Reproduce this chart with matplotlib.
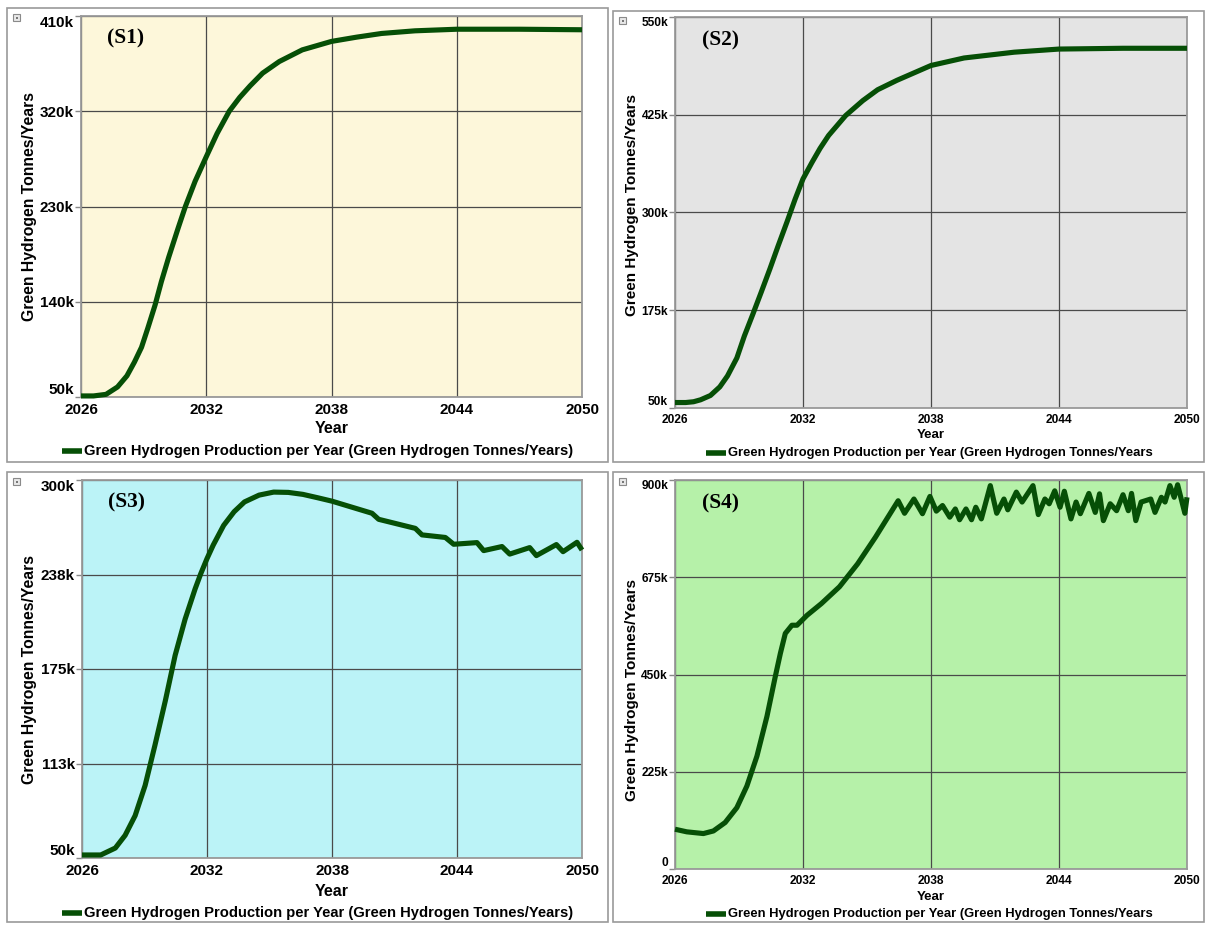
import matplotlib
matplotlib.use("Agg")
import matplotlib.pyplot as plt
import matplotlib.patches as patches
from matplotlib.lines import Line2D

# =============================================================================
# DATA (values in thousand tonnes / year)
# =============================================================================

year_ticks = [2026, 2032, 2038, 2044, 2050]

s1_years = [2026, 2026.6, 2027.2, 2027.75, 2028.2, 2028.56, 2028.9, 2029.2, 2029.55,
            2029.85, 2030.2, 2030.66, 2031.0, 2031.47, 2032.0, 2032.52, 2033.1, 2033.6,
            2034.1, 2034.7, 2035.5, 2036.6, 2038.0, 2039.2, 2040.4, 2042.0, 2044.0,
            2047.0, 2050.0]
s1_values = [51, 51, 52.5, 59.5, 70, 83, 97, 115, 137, 159, 182, 210, 230, 254, 277,
             299, 320, 333, 344, 356, 367, 378, 386, 390, 393.5, 396, 397.5, 397.5, 397]
s1_yticks = [50, 140, 230, 320, 410]
s1_ylabels = ["50k", "140k", "230k", "320k", "410k"]

s2_years = [2026, 2026.5, 2026.87, 2027.2, 2027.66, 2028.1, 2028.46, 2028.9, 2029.25,
            2029.65, 2030.04, 2030.45, 2030.83, 2031.25, 2031.63, 2032.0, 2032.42,
            2032.8, 2033.2, 2034.0, 2034.8, 2035.5, 2036.4, 2038.0, 2039.55, 2041.9,
            2044.0, 2047.0, 2050.0]
s2_values = [57, 57, 58, 60.5, 66, 77, 91, 114, 142, 170, 198, 228, 257, 288, 317, 343,
             364, 382, 398.5, 424, 443, 457, 469, 488, 497.6, 505, 509, 510, 510]
s2_yticks = [50, 175, 300, 425, 550]
s2_ylabels = ["50k", "175k", "300k", "425k", "550k"]

s3_years = [2026, 2026.9, 2027.6, 2028.07, 2028.55, 2029.03, 2029.5, 2030.0, 2030.47,
            2030.95, 2031.43, 2031.7, 2032.0, 2032.3, 2032.8, 2033.3, 2033.8, 2034.5,
            2035.2, 2035.9, 2036.6, 2037.3, 2038.0, 2039.92, 2040.24, 2042.0, 2042.32,
            2043.44, 2043.84, 2044.96, 2045.28, 2046.16, 2046.53, 2047.49, 2047.81,
            2048.77, 2049.09, 2049.76, 2050.0]
s3_values = [52, 52, 56.6, 65, 78, 98, 124.5, 154, 184, 208, 228, 238, 248, 257, 270,
             279, 285.5, 290, 292, 291.8, 290.5, 288.3, 286, 278, 274, 268, 263.7, 262,
             257.5, 258.6, 253.3, 256, 251, 255.3, 250, 257.3, 252.6, 258.8, 253.7]
s3_yticks = [50, 112.5, 175, 237.5, 300]
s3_ylabels = ["50k", "113k", "175k", "238k", "300k"]

s4_years = [2026, 2026.55, 2027.33, 2027.8, 2028.35, 2028.9, 2029.37, 2029.84, 2030.31,
            2030.7, 2030.94, 2031.17, 2031.48, 2031.72, 2032.19, 2032.86, 2033.71,
            2034.56, 2035.4, 2036.46, 2036.76, 2037.2, 2037.6, 2037.95, 2038.25,
            2038.54, 2038.88, 2039.14, 2039.34, 2039.64, 2039.9, 2040.1, 2040.36,
            2040.78, 2041.08, 2041.42, 2041.6, 2042.0, 2042.27, 2042.78, 2043.03,
            2043.34, 2043.54, 2043.8, 2044.05, 2044.25, 2044.56, 2044.8, 2045.0,
            2045.4, 2045.7, 2045.9, 2046.08, 2046.4, 2046.7, 2047.0, 2047.25, 2047.4,
            2047.6, 2047.85, 2048.3, 2048.5, 2048.8, 2048.97, 2049.2, 2049.4,
            2049.56, 2049.9, 2050.0]
s4_values = [92, 86, 82, 88, 107.5, 142, 192, 261, 353, 445, 499, 545, 564, 564, 587,
             614, 653, 706, 768, 852, 823, 856, 822, 862, 828, 841, 814, 833, 808, 833,
             808, 837, 810, 887, 823, 856, 831, 872, 849, 887, 820, 856, 845, 875, 837,
             874, 810, 849, 822, 869, 825, 868, 806, 845, 829, 866, 829, 869, 806, 849,
             856, 825, 860, 849, 887, 860, 889, 823, 860]
s4_yticks = [0, 225, 450, 675, 900]
s4_ylabels = ["0", "225k", "450k", "675k", "900k"]

legend_full = "Green Hydrogen Production per Year (Green Hydrogen Tonnes/Years)"
legend_cut = "Green Hydrogen Production per Year (Green Hydrogen Tonnes/Years"

# =============================================================================
# LAYOUT (pixel boxes on a 1206 x 925 canvas)
# =============================================================================

W, H = 1206, 925
line_color = "#064f06"
font = "Liberation Sans"

fig = plt.figure(figsize=(W / 100, H / 100), dpi=100)
fig.patch.set_facecolor("white")


def fig_rect(l, t, r, b):
    return [l / W, 1 - b / H, (r - l) / W, (b - t) / H]


def fx(x):
    return x / W


def fy(y):
    return 1 - y / H


left_fonts = dict(tick=11, ylab=11.3, xlab=11.5, leg=10.6)
right_fonts = dict(tick=8.6, ylab=11, xlab=9.5, leg=9.4)

panels = [
    dict(x=s1_years, y=s1_values, ticks=s1_yticks, labels=s1_ylabels, ylim=(50, 410),
         bg="#fdf7da", box=(7, 8, 608, 462), plot=(81, 16, 582, 397), tag="(S1)",
         ylab_x=30, ylab_y=207, xlab_y=429, leg_y=451, leg_x=62, fs=left_fonts,
         leg=legend_full),
    dict(x=s2_years, y=s2_values, ticks=s2_yticks, labels=s2_ylabels, ylim=(50, 550),
         bg="#e4e4e4", box=(613, 11, 1204, 462), plot=(675, 17, 1187, 408), tag="(S2)",
         ylab_x=632, ylab_y=205, xlab_y=435, leg_y=453, leg_x=706, fs=right_fonts,
         leg=legend_cut),
    dict(x=s3_years, y=s3_values, ticks=s3_yticks, labels=s3_ylabels, ylim=(50, 300),
         bg="#bbf3f7", box=(7, 472, 608, 922), plot=(82, 480, 582, 858), tag="(S3)",
         ylab_x=30, ylab_y=669, xlab_y=891, leg_y=913, leg_x=62, fs=left_fonts,
         leg=legend_full),
    dict(x=s4_years, y=s4_values, ticks=s4_yticks, labels=s4_ylabels, ylim=(0, 900),
         bg="#b6f1a9", box=(613, 472, 1204, 922), plot=(675, 480, 1187, 869), tag="(S4)",
         ylab_x=632, ylab_y=690, xlab_y=897, leg_y=914, leg_x=706, fs=right_fonts,
         leg=legend_cut),
]

for p in panels:
    fs = p["fs"]
    # outer panel frame + the little window icon
    bl, bt, br, bb = p["box"]
    fig.add_artist(patches.Rectangle((fx(bl), fy(bb)), (br - bl) / W, (bb - bt) / H,
                                     transform=fig.transFigure, fill=False,
                                     edgecolor="#9a9a9a", linewidth=1.2))
    fig.add_artist(patches.Rectangle((fx(bl + 6), fy(bt + 13)), 7 / W, 7 / H,
                                     transform=fig.transFigure, facecolor="#e8e8e8",
                                     edgecolor="#8a8a8a", linewidth=0.8))
    fig.add_artist(patches.Rectangle((fx(bl + 8.5), fy(bt + 10.5)), 2 / W, 2 / H,
                                     transform=fig.transFigure, facecolor="#777777",
                                     edgecolor="none"))

    ax = fig.add_axes(fig_rect(*p["plot"]))
    ax.set_facecolor(p["bg"])
    ax.plot(p["x"], p["y"], color=line_color, linewidth=3.7, solid_joinstyle="round",
            solid_capstyle="butt", clip_on=False, zorder=3)
    ax.set_xlim(2026, 2050)
    ax.set_ylim(*p["ylim"])
    ax.set_xticks(year_ticks)
    ax.set_xticklabels([str(t) for t in year_ticks], fontsize=fs["tick"],
                       fontweight="bold", family=font)
    ax.set_yticks(p["ticks"])
    ylabels = ax.set_yticklabels(p["labels"], fontsize=fs["tick"], fontweight="bold",
                                 family=font)
    # end labels sit inside the axis range, like the original tool draws them
    ylabels[0].set_verticalalignment("bottom")
    ylabels[-1].set_verticalalignment("top")
    ax.grid(True, color="#4a4a4a", linewidth=0.9)
    ax.set_axisbelow(True)
    ax.tick_params(axis="y", length=4, width=1, color="#888888", pad=1)
    ax.tick_params(axis="x", length=0, pad=4)
    for s in ax.spines.values():
        s.set_color("#9a9a9a")
        s.set_linewidth(1.3)

    ax.text(0.052, 0.94, p["tag"], transform=ax.transAxes, fontsize=15.5,
            fontweight="bold", family="Liberation Serif", va="center", ha="left")

    pl, pt, pr, pb = p["plot"]
    fig.text(fx(p["ylab_x"]), fy(p["ylab_y"]), "Green Hydrogen Tonnes/Years",
             rotation=90, ha="center", va="center", fontsize=fs["ylab"],
             fontweight="bold", family=font)
    fig.text(fx((pl + pr) / 2), fy(p["xlab_y"]), "Year", ha="center", va="center",
             fontsize=fs["xlab"], fontweight="bold", family=font)

    # legend swatch and label
    fig.add_artist(Line2D([fx(p["leg_x"]), fx(p["leg_x"] + 20)],
                          [fy(p["leg_y"]), fy(p["leg_y"])], transform=fig.transFigure,
                          color=line_color, linewidth=4, solid_capstyle="butt"))
    fig.text(fx(p["leg_x"] + 22), fy(p["leg_y"]), p["leg"], ha="left", va="center",
             fontsize=fs["leg"], fontweight="bold", family=font)

fig.savefig("out.png", dpi=100)
